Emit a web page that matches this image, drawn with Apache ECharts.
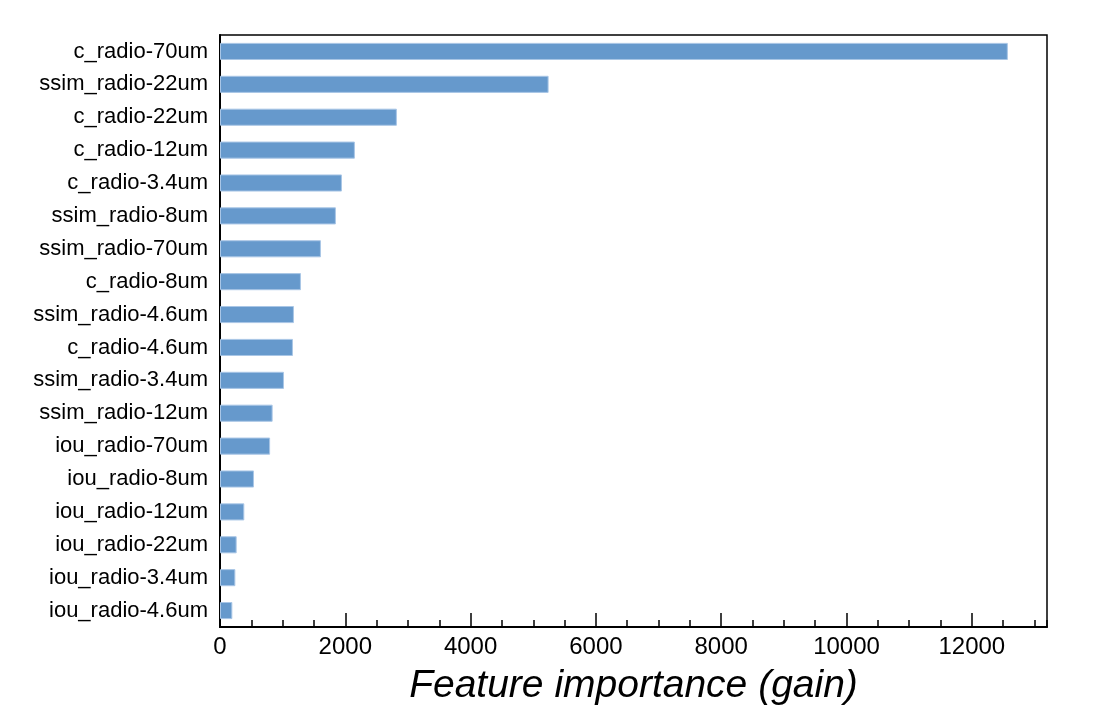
<!DOCTYPE html>
<html>
<head>
<meta charset="utf-8">
<script src="https://cdn.jsdelivr.net/npm/echarts@6/dist/echarts.min.js"></script>
<style>html,body{margin:0;padding:0;background:#fff}#c{width:1103px;height:714px}</style>
</head>
<body>
<div id="c"></div>
<script>
const categories = ["c_radio-70um","ssim_radio-22um","c_radio-22um","c_radio-12um","c_radio-3.4um","ssim_radio-8um","ssim_radio-70um","c_radio-8um","ssim_radio-4.6um","c_radio-4.6um","ssim_radio-3.4um","ssim_radio-12um","iou_radio-70um","iou_radio-8um","iou_radio-12um","iou_radio-22um","iou_radio-3.4um","iou_radio-4.6um"];
const gainValues = [12575,5245,2823,2153,1946,1850,1611,1292,1180,1164,1021,840,800,542,388,266,245,197];
const xTitle = "Feature importance (gain)";
const xMin = 0, xMax = 13200, majorStep = 2000, minorStep = 500;

const chart = echarts.init(document.getElementById('c'), null, {renderer:'canvas'});
const font = "'Liberation Sans', Arial, Helvetica, sans-serif";
chart.setOption({
  animation:false,
  backgroundColor:'#fff',
  grid:{left:220,right:56,top:35,bottom:87,show:true,borderColor:'#000',borderWidth:1.5,backgroundColor:'transparent'},
  xAxis:[{
    type:'value',min:xMin,max:xMax,interval:majorStep,position:'bottom',
    name:xTitle,nameLocation:'middle',nameGap:40,
    nameTextStyle:{fontFamily:font,fontSize:39,fontStyle:'italic',color:'#000'},
    axisLine:{show:true,lineStyle:{color:'#000',width:2}},
    axisTick:{show:true,inside:true,length:14,lineStyle:{color:'#000',width:1.5}},
    axisLabel:{fontFamily:font,fontSize:24,color:'#000',margin:8,showMaxLabel:false,formatter:v=>String(v)},
    splitLine:{show:false}
  },{
    type:'value',min:xMin,max:xMax,interval:minorStep,position:'bottom',
    axisLine:{show:false},
    axisTick:{show:true,inside:true,length:7,lineStyle:{color:'#000',width:1.5}},
    axisLabel:{show:false},splitLine:{show:false}
  }],
  yAxis:{
    type:'category',data:categories,inverse:true,
    axisLine:{show:true,lineStyle:{color:'#000',width:2}},
    axisTick:{show:false},
    axisLabel:{fontFamily:font,fontSize:22,color:'#000',margin:12},
    splitLine:{show:false}
  },
  series:[{
    type:'bar',data:gainValues,xAxisIndex:0,barWidth:'52%',
    itemStyle:{color:'#6699cc',borderColor:'#a9c6e6',borderWidth:1}
  }]
});
</script>
</body>
</html>
